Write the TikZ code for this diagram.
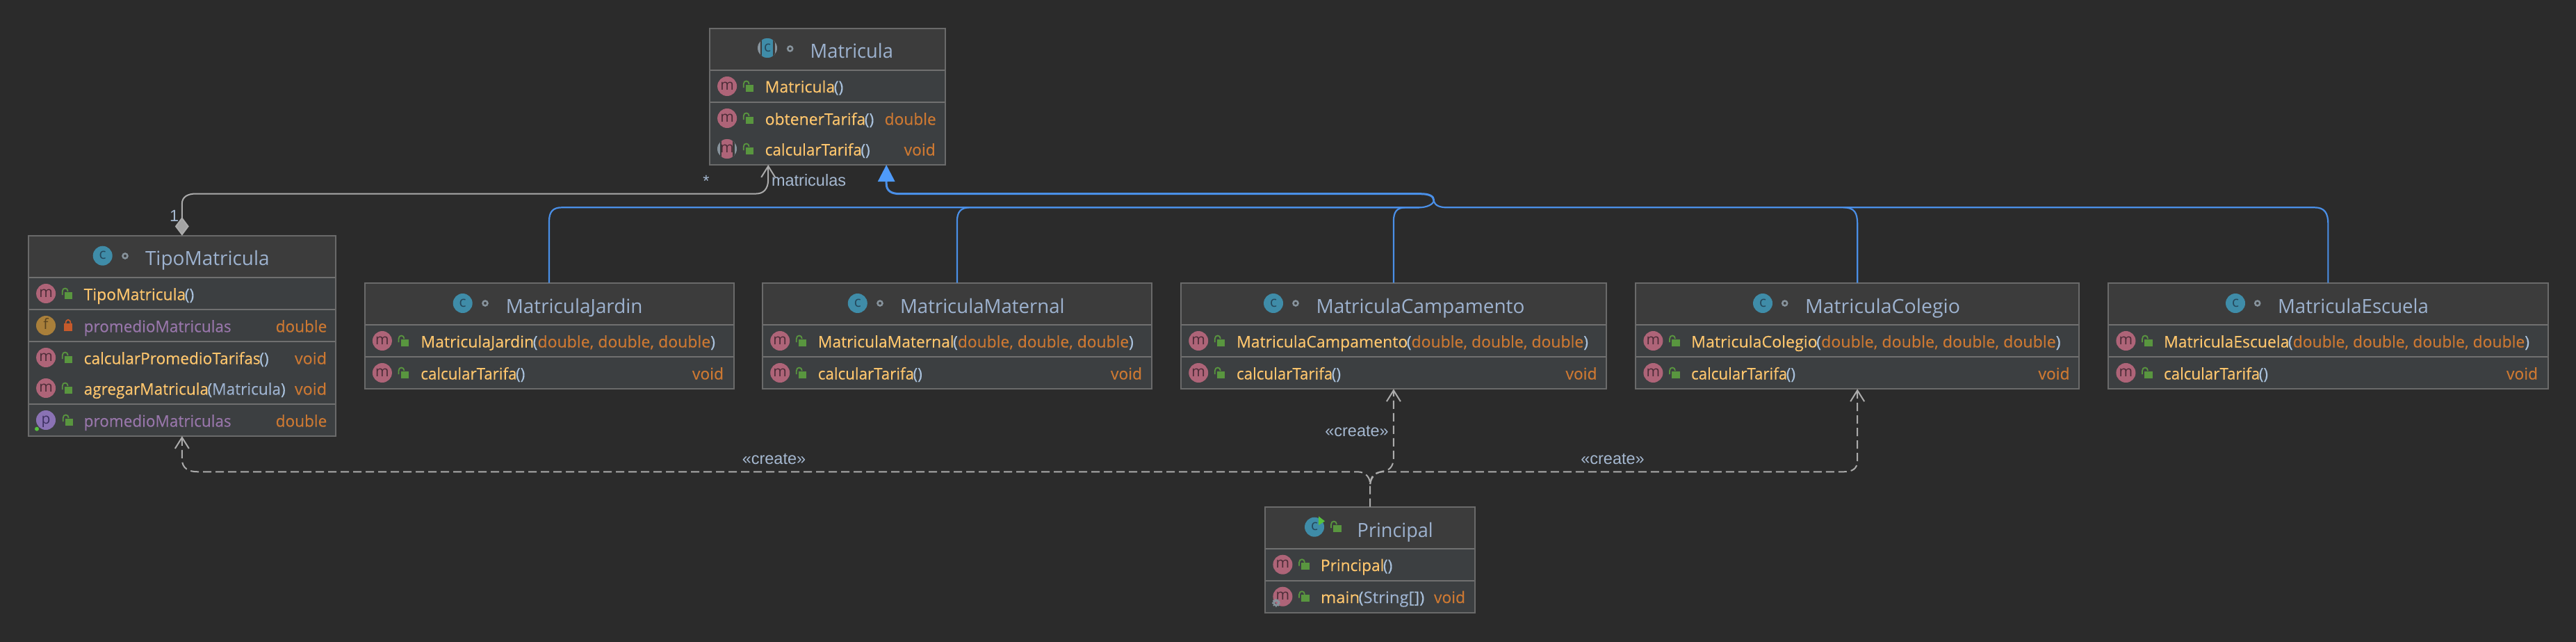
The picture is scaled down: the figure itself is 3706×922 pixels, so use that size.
\documentclass[tikz,border=0pt]{standalone}
\usepackage{fontspec}
\usepackage{graphicx}
\setmainfont{Open Sans}
\newfontfamily\rowf[FakeBold=0.15]{Open Sans}
\newfontfamily\lblfont{Liberation Sans}
\usetikzlibrary{arrows.meta}
\definecolor{canvas}{HTML}{2B2B2B}
\definecolor{rowbg}{HTML}{3C3F41}
\definecolor{titlebg}{HTML}{3C3C3C}
\definecolor{framec}{HTML}{6A6A6A}
\definecolor{sepc}{HTML}{707070}
\definecolor{mname}{HTML}{FFC66D}
\definecolor{par}{HTML}{A9C1DC}
\definecolor{typec}{HTML}{CC7832}
\definecolor{fieldc}{HTML}{9876AA}
\definecolor{titlec}{HTML}{9DB2CF}
\definecolor{labelc}{HTML}{A5B8D0}
\definecolor{lockg}{HTML}{59963F}
\definecolor{lockr}{HTML}{C75A2B}
\definecolor{mic}{HTML}{AE6478}
\definecolor{mlet}{HTML}{4B2C37}
\definecolor{cic}{HTML}{3F8CA8}
\definecolor{clet}{HTML}{25485C}
\definecolor{fic}{HTML}{A97F3A}
\definecolor{flet}{HTML}{5A4420}
\definecolor{pic}{HTML}{8A72B4}
\definecolor{plet}{HTML}{3C3060}
\definecolor{greyic}{HTML}{87939C}
\definecolor{inhc}{HTML}{4A8FE7}
\definecolor{inhtip}{HTML}{4F9BFA}
\definecolor{linec}{HTML}{ABABAB}
\definecolor{runc}{HTML}{57C13D}
\newcounter{nid}
\tikzset{
  boxframe/.style={rectangle,fill=rowbg,draw=none,inner sep=0,outer sep=0},
  frameline/.style={draw=framec,line width=2pt},
  sepline/.style={draw=sepc,line width=2pt},
  txt/.style={inner sep=0,outer sep=0},
  rowfont/.style={font=\rowf\fontsize{23}{27}\selectfont},
  titlefont/.style={font=\fontsize{28}{32}\selectfont,text=titlec},
  lblf/.style={font=\lblfont\fontsize{23.5}{28}\selectfont,text=labelc,inner sep=0,outer sep=0},
  icn/.style={circle,minimum size=28pt,inner sep=0,outer sep=0,font=\fontsize{21}{23}\selectfont,text height=10.5pt,text depth=0pt},
  icl/.style={inner sep=0,outer sep=0,font=\fontsize{21}{23}\selectfont,text height=10.5pt,text depth=0pt},
  inh/.style={draw=inhc,line width=2.2pt},
  trunk/.style={draw=inhc,line width=3pt},
  assoc/.style={draw=linec,line width=2pt},
  dep/.style={draw=linec,line width=2pt,dash pattern=on 12pt off 6pt},
  barb/.tip={Straight Barb[length=16pt,width=20pt,line width=2pt]},
}
\newcommand\umlbox[6]{%
  \node[boxframe,minimum width={(#3-#2)*1pt},minimum height={(#6-#4)*1pt}] (#1) at ({(#2+#3)/2},{(#4+#6)/2}) {};
  \fill[titlebg] (#2,#4) rectangle (#3,\firstsep#5,\relax);
  \foreach \s in {#5} {\draw[sepline] (#2,\s) -- (#3,\s);}
  \draw[frameline] (#1.north west) rectangle (#1.south east);
}
\def\firstsep#1,#2\relax{#1}
\newcommand\Lt[5][rowfont]{\stepcounter{nid}\node[txt,#1,anchor=base west] (t\arabic{nid}) at (#2,#3) {\resizebox{#4pt}{\height}{#5}};}
\newcommand\Rt[5][rowfont]{\stepcounter{nid}\node[txt,#1,anchor=base east] (t\arabic{nid}) at (#2,#3) {\resizebox{#4pt}{\height}{#5}};}
\newcommand\mn[2]{{\color{mname}#1}\kern-1.5pt{\color{par}(}#2{\color{par})}}
\newcommand\ty[1]{{\color{typec}#1}}
\newcommand\fn[1]{{\color{fieldc}#1}}
\newcommand\letter[5]{\stepcounter{nid}\node[icn,fill=#1,text=#2] (i\arabic{nid}) at (#3,#4) {#5};}
\newcommand\openlock[2]{%
  \begin{scope}[shift={(#1,#2)}]
    \fill[lockg] (-4,-2.3) rectangle (7.6,7.7);
    \draw[lockg,line width=1.8pt] (-7,2) -- (-7,-3) .. controls (-7,-9) and (1,-9) .. (1,-3);
  \end{scope}}
\newcommand\closedlock[2]{%
  \begin{scope}[shift={(#1,#2)}]
    \fill[lockr] (-6,-3) rectangle (6,8);
    \draw[lockr,line width=1.8pt] (-3.5,-3) .. controls (-3.5,-10) and (3.5,-10) .. (3.5,-3);
  \end{scope}}
\newcommand\mrow[2]{\letter{mic}{mlet}{#1+25.4}{#2}{m}\openlock{#1+56}{#2}}
\newcommand\pkgdot[2]{\draw[greyic,line width=2.5pt] (#1,#2) circle[radius=3.5];}
\newcommand\absicon[5]{%
  \fill[greyic] (#3,#4) circle[radius=14];
  \begin{scope}
    \clip (#3,#4) circle[radius=14];
    \fill[titlebg] (#3-10.5,#4-14) rectangle (#3+10.5,#4+14);
    \fill[#1] (#3-8,#4-14) rectangle (#3+8,#4+14);
  \end{scope}
  \stepcounter{nid}\node[icl,text=#2] (i\arabic{nid}) at (#3,#4) {#5};}
\begin{document}
\begin{tikzpicture}[x=1pt,y=-1pt]
\useasboundingbox (0,0) rectangle (3706,922);
\fill[canvas] (-6,-6) rectangle (3712,928);

% ---------- boxes
\umlbox{matricula}{1020.7}{1359.7}{40.7}{100.7,146.7}{237}
\umlbox{tipo}{40.7}{483}{338.7}{398.7,445,490.7,581}{627}
\umlbox{jardin}{524.5}{1055.5}{406.7}{467,512.7}{559.3}
\umlbox{maternal}{1096.8}{1657}{406.7}{467,512.7}{559.3}
\umlbox{campamento}{1698.8}{2311}{406.7}{467,512.7}{559.3}
\umlbox{colegio}{2353}{2991.3}{406.7}{467,512.7}{559.3}
\umlbox{escuela}{3033}{3665.7}{406.7}{467,512.7}{559.3}
\umlbox{principal}{1820}{2122.3}{728.7}{788.7,834.7}{881.3}

% ---------- Matricula
\absicon{cic}{clet}{1104}{69}{c}
\pkgdot{1136.7}{70}
\Lt[titlefont]{1165.7}{83.3}{119.3}{Matricula}
\mrow{1020.7}{124}
\Lt{1100.7}{133}{112.6}{\mn{Matricula}{}}
\mrow{1020.7}{170}
\Lt{1100.7}{179.5}{156.6}{\mn{obtenerTarifa}{}}
\Rt{1346.7}{179.5}{74}{\ty{double}}
\absicon{mic}{mlet}{1046}{214}{m}
\openlock{1076.7}{214}
\Lt{1100.7}{223.5}{151}{\mn{calcularTarifa}{}}
\Rt{1345.7}{223.5}{45}{\ty{void}}

% ---------- TipoMatricula
\letter{cic}{clet}{147.7}{367.7}{c}
\pkgdot{180}{368}
\Lt[titlefont]{209}{381.7}{178.7}{TipoMatricula}
\mrow{40.7}{422}
\Lt{120.7}{431.5}{158.6}{\mn{TipoMatricula}{}}
\letter{fic}{flet}{66}{468}{f}
\closedlock{98}{468}
\Lt{120.7}{477.5}{212}{\fn{promedioMatriculas}}
\Rt{470.3}{477.5}{73.6}{\ty{double}}
\mrow{40.7}{514}
\Lt{120.7}{523.5}{266}{\mn{calcularPromedioTarifas}{}}
\Rt{470}{523.5}{46}{\ty{void}}
\mrow{40.7}{558}
\Lt{120.7}{567.5}{290}{\mn{agregarMatricula}{{\color{titlec}Matricula}}}
\Rt{470}{567.5}{46}{\ty{void}}
\letter{pic}{plet}{66}{604}{p}
\fill[runc] (53,616.7) circle[radius=3];
\openlock{97.7}{604}
\Lt{120.7}{613.5}{212}{\fn{promedioMatriculas}}
\Rt{470.3}{613.5}{73.6}{\ty{double}}

% ---------- MatriculaJardin
\letter{cic}{clet}{665.7}{436}{c}
\pkgdot{698}{436}
\Lt[titlefont]{727.8}{450}{196.7}{MatriculaJardin}
\mrow{524.5}{490}
\Lt{605.3}{499.5}{423.7}{\mn{MatriculaJardin}{\ty{double, double, double}}}
\mrow{524.5}{536}
\Lt{605.3}{545.5}{150}{\mn{calcularTarifa}{}}
\Rt{1041}{545.5}{45}{\ty{void}}

% ---------- MatriculaMaternal
\letter{cic}{clet}{1233.8}{436}{c}
\pkgdot{1266}{436}
\Lt[titlefont]{1295}{450}{236.6}{MatriculaMaternal}
\mrow{1096.8}{490}
\Lt{1176.8}{499.5}{454}{\mn{MatriculaMaternal}{\ty{double, double, double}}}
\mrow{1096.8}{536}
\Lt{1176.8}{545.5}{150}{\mn{calcularTarifa}{}}
\Rt{1643}{545.5}{45}{\ty{void}}

% ---------- MatriculaCampamento
\letter{cic}{clet}{1832}{436}{c}
\pkgdot{1864}{436}
\Lt[titlefont]{1893.5}{450}{300}{MatriculaCampamento}
\mrow{1698.8}{490}
\Lt{1779}{499.5}{506}{\mn{MatriculaCampamento}{\ty{double, double, double}}}
\mrow{1698.8}{536}
\Lt{1779}{545.5}{150}{\mn{calcularTarifa}{}}
\Rt{2297.5}{545.5}{45}{\ty{void}}

% ---------- MatriculaColegio
\letter{cic}{clet}{2536}{436}{c}
\pkgdot{2567.7}{436}
\Lt[titlefont]{2597}{450}{223}{MatriculaColegio}
\mrow{2353}{490}
\Lt{2433}{499.5}{531.5}{\mn{MatriculaColegio}{\ty{double, double, double, double}}}
\mrow{2353}{536}
\Lt{2433}{545.5}{150}{\mn{calcularTarifa}{}}
\Rt{2977.5}{545.5}{45}{\ty{void}}

% ---------- MatriculaEscuela
\letter{cic}{clet}{3216}{436}{c}
\pkgdot{3247.7}{436}
\Lt[titlefont]{3277}{450}{217}{MatriculaEscuela}
\mrow{3033}{490}
\Lt{3113}{499.5}{526}{\mn{MatriculaEscuela}{\ty{double, double, double, double}}}
\mrow{3033}{536}
\Lt{3113}{545.5}{150}{\mn{calcularTarifa}{}}
\Rt{3651}{545.5}{45}{\ty{void}}

% ---------- Principal
\letter{cic}{clet}{1891}{757.7}{c}
\fill[runc] (1897,742.3) -- (1906,749.3) -- (1897,755) -- cycle;
\openlock{1922}{757}
\Lt[titlefont]{1952.7}{772}{109}{Principal}
\mrow{1820}{811.7}
\Lt{1900}{821}{103.3}{\mn{Principal}{}}
\mrow{1820}{857.7}
\draw[greyic,line width=2.6pt] (1836,866.7) circle[radius=3.4];
\draw[greyic,line width=1.6pt,dash pattern=on 2pt off 1.6pt] (1836,866.7) circle[radius=5.2];
\Lt{1900}{867}{149.3}{\mn{main}{{\color{titlec}String}{\color{par}[]}}}
\Rt{2108}{867}{45}{\ty{void}}

% ---------- inheritance
\coordinate (jun) at (2062.7,288);
\coordinate (lowL) at (2042,298.3);
\coordinate (lowR) at (2082,298.3);
\draw[inh] (jardin.north) -- (790,318) .. controls (790,304) and (796,298.3) .. (808,298.3) -- (lowL) .. controls (2052,298.3) and (2062.7,294) .. (jun);
\draw[inh] (maternal.north) -- (1376.9,318) .. controls (1376.9,304) and (1383,298.3) .. (1395,298.3) -- (lowL);
\draw[inh] (campamento.north) -- (2004.9,318) .. controls (2004.9,304) and (2010,298.3) .. (2022,298.3) -- (lowL);
\draw[inh] (colegio.north) -- (2672.15,322) .. controls (2672.15,306) and (2668,298.3) .. (2652,298.3) -- (lowR) .. controls (2072,298.3) and (2064,296) .. (jun);
\draw[inh] (escuela.north) -- (3349.35,322) .. controls (3349.35,306) and (3344,298.3) .. (3330,298.3) -- (2652,298.3);
\draw[trunk,-{Triangle[length=24pt,width=24pt,color=inhtip,fill=inhtip]}] (jun) .. controls (2062.7,282) and (2056,278.7) .. (2044,278.7) -- (1295,278.7) .. controls (1283,278.7) and (1275.2,275) .. (1275.2,264) -- ([xshift=85pt]matricula.south);

% ---------- association / composition
\draw[assoc,{Diamond[length=26.6pt,width=20pt,fill=linec!110,color=linec]}-barb] (tipo.north) -- (261.85,293) .. controls (261.85,283) and (270,278.5) .. (282,278.5) -- (1088,278.5) .. controls (1098,278.5) and (1105.2,272) .. (1105.2,258) -- ([xshift=-85pt]matricula.south);
\node[lblf,anchor=base] (lbl1) at (250.7,318) {1};
\node[lblf,anchor=base] (lblstar) at (1016,268) {*};
\node[lblf,anchor=base west] (lblm) at (1110,267) {matriculas};

% ---------- create dependencies
\draw[dep,-barb] (principal.north) -- (1971.15,696) .. controls (1971.15,688) and (1966,678.3) .. (1953,678.3) -- (285,678.3) .. controls (272,678.3) and (261.85,674) .. (261.85,660) -- (tipo.south);
\draw[dep,-barb] (1971.15,696) .. controls (1972,684) and (1978,678.5) .. (1990,678.3) -- (2652,678.3) .. controls (2665,678.3) and (2672.15,674) .. (2672.15,662) -- (colegio.south);
\draw[dep,-barb] (1971.15,696) .. controls (1973,684) and (1980,678.5) .. (1993,677) .. controls (2002,674) and (2004.9,668) .. (2004.9,655) -- (campamento.south);
\node[lblf,anchor=base] (c1) at (1113.5,667) {«create»};
\node[lblf,anchor=base] (c2) at (1952,627) {«create»};
\node[lblf,anchor=base] (c3) at (2320,667) {«create»};
\end{tikzpicture}
\end{document}
